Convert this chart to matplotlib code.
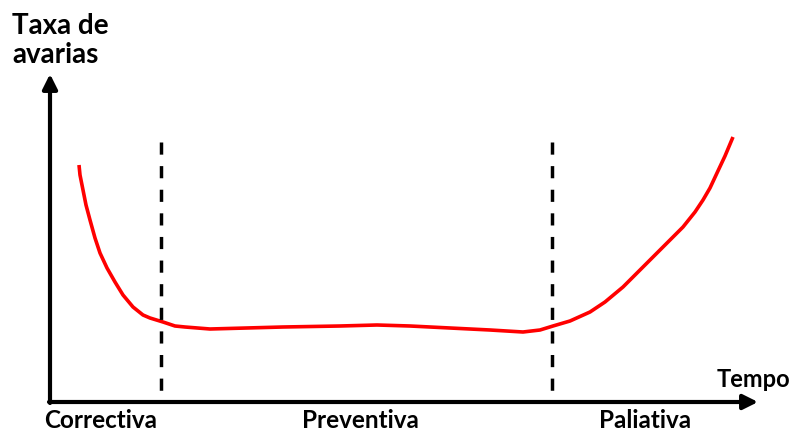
import matplotlib
matplotlib.use('Agg')
import matplotlib.pyplot as plt

# bathtub curve (time units, failure rate units)
tempo = [29, 30, 33, 36, 40, 45, 50, 57, 65, 73, 83, 93, 100, 113, 125, 135,
         160, 233, 290, 327, 360, 400, 440, 473, 490, 503, 520, 540, 555,
         573, 590, 607, 620, 633, 645, 653, 660, 667, 675, 683]
taxa = [237, 227, 212, 197, 182, 164, 149, 134, 120, 107, 95, 87, 84, 80, 76,
        75, 73, 75, 76, 77, 76, 74, 72, 70, 72, 76, 81, 90, 100, 115, 132,
        149, 162, 175, 190, 202, 214, 229, 246, 265]
limites = [111, 502]
limite_altura = 260
fases = ['Correctiva', 'Preventiva', 'Paliativa']
fase_centros = [51, 310, 595]

plt.rcParams['font.family'] = ['Lato', 'DejaVu Sans']

fig = plt.figure(figsize=(7.92, 4.32), dpi=100)
ax = fig.add_axes([50 / 792, 30 / 432, 710 / 792, 327 / 432])
ax.set_xlim(0, 710)
ax.set_ylim(0, 327)
ax.axis('off')

ax.plot(tempo, taxa, color='#ff0000', lw=2.6, solid_capstyle='butt',
        solid_joinstyle='round')

for x in limites:
    ax.plot([x, x], [limite_altura, 0], color='black', lw=2.5,
            linestyle=(0, (3.5, 3.3)))

# axes with arrows
ax.annotate('', xy=(708, 0), xytext=(-1, 0), annotation_clip=False,
            arrowprops=dict(arrowstyle='-|>', lw=3, color='black',
                            mutation_scale=22, shrinkA=0, shrinkB=0))
ax.annotate('', xy=(0, 328), xytext=(0, -1), annotation_clip=False,
            arrowprops=dict(arrowstyle='-|>', lw=3, color='black',
                            mutation_scale=22, shrinkA=0, shrinkB=0))

for nome, c in zip(fases, fase_centros):
    ax.text(c, -7, nome, ha='center', va='top', fontsize=17.5,
            fontweight='bold')

ax.text(740, 11, 'Tempo', ha='right', va='bottom', fontsize=17,
        fontweight='bold')
fig.text(12 / 792, 1 - 13 / 432, 'Taxa de\navarias', ha='left', va='top',
         fontsize=20, fontweight='bold', linespacing=1.15)

fig.savefig('out.png', dpi=100)
